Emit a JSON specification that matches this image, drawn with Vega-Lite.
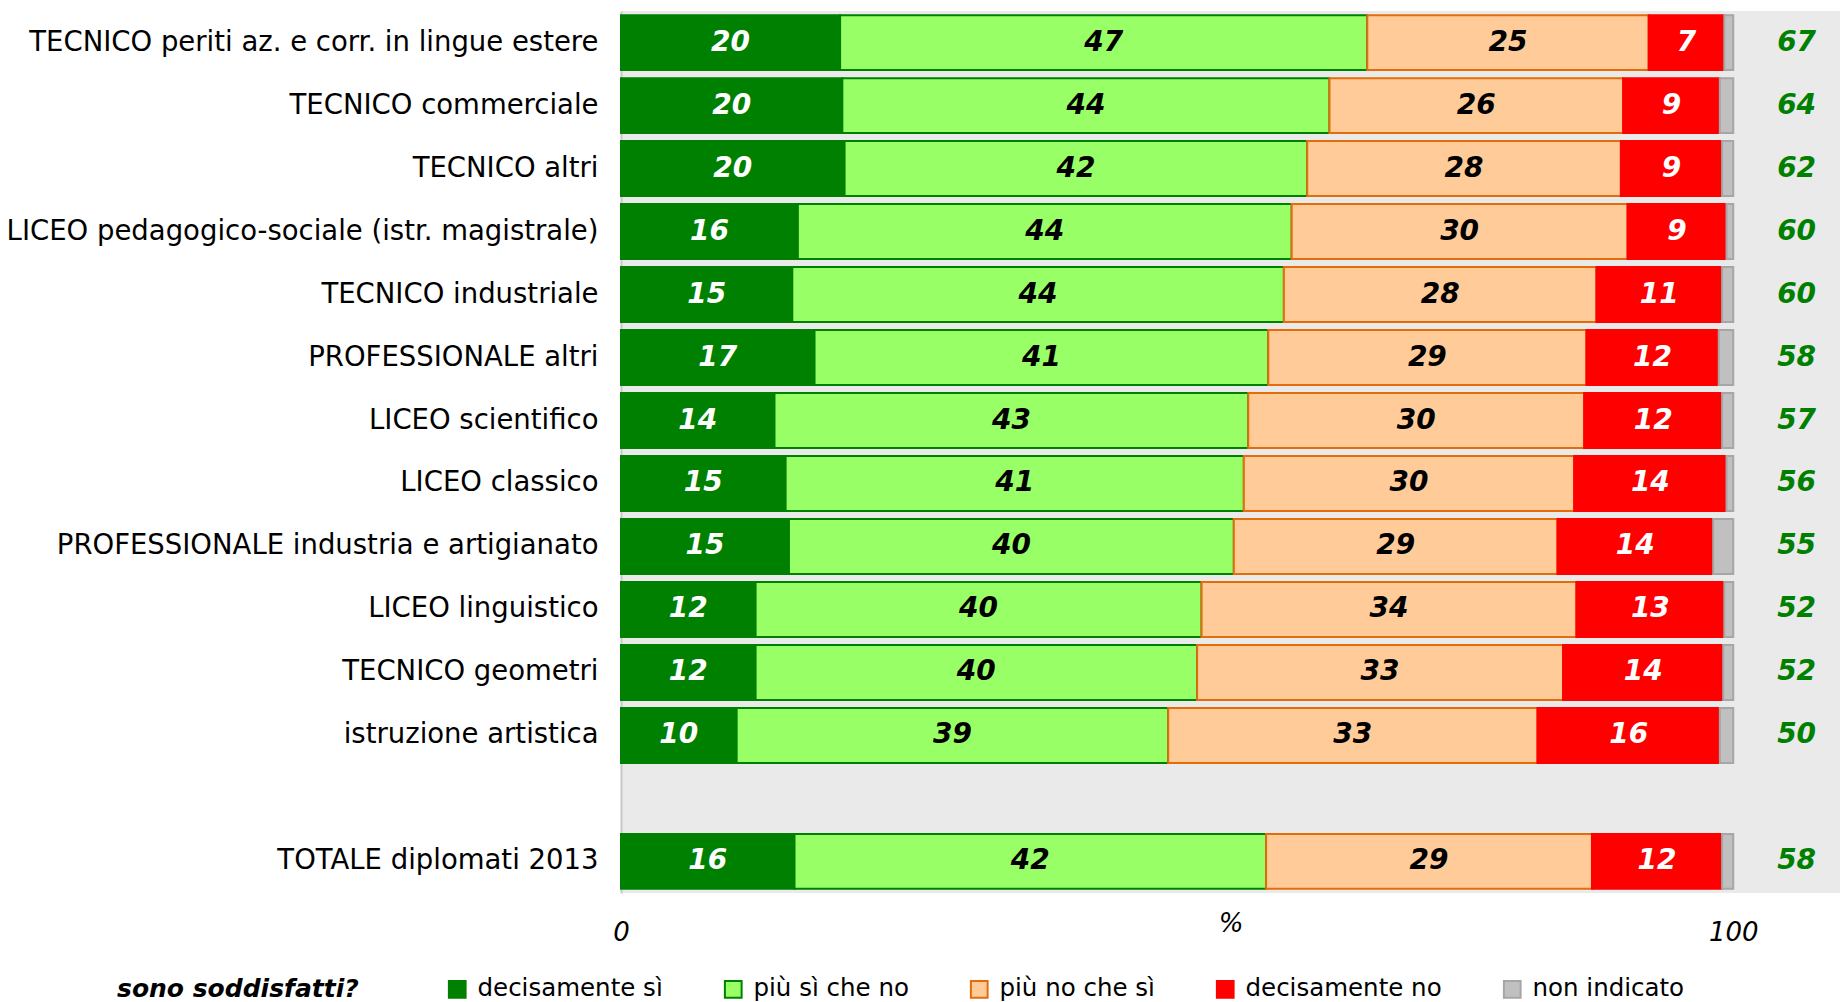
{
  "$schema": "https://vega.github.io/schema/vega-lite/v6.json",
  "width": 1219,
  "height": 882,
  "autosize": {"type": "none"},
  "padding": {"left": 621, "top": 11, "right": 0, "bottom": 109},
  "config": {
    "font": "DejaVu Sans",
    "view": {"stroke": null, "fill": "#EAEAEA"},
    "legend": {
      "orient": "none",
      "legendX": -504,
      "legendY": 966,
      "direction": "horizontal",
      "titleOrient": "left",
      "titleAngle": 0,
      "titleFontSize": 25,
      "titleFontStyle": "italic",
      "titleFontWeight": "bold",
      "titleColor": "#000000",
      "titlePadding": 86,
      "titleLimit": 0,
      "labelFontSize": 24.5,
      "labelColor": "#000000",
      "labelLimit": 0,
      "labelOffset": 8,
      "columnPadding": 57,
      "symbolType": "square",
      "symbolSize": 280,
      "symbolStrokeWidth": 2,
      "symbolOpacity": 1
    }
  },
  "datasets": {
    "segmenti": [
      {"categoria": "TECNICO periti az. e corr. in lingue estere", "risposta": "decisamente sì", "ordine": 1, "valore": 19.7},
      {"categoria": "TECNICO periti az. e corr. in lingue estere", "risposta": "più sì che no", "ordine": 2, "valore": 47.4},
      {"categoria": "TECNICO periti az. e corr. in lingue estere", "risposta": "più no che sì", "ordine": 3, "valore": 25.3},
      {"categoria": "TECNICO periti az. e corr. in lingue estere", "risposta": "decisamente no", "ordine": 4, "valore": 6.8},
      {"categoria": "TECNICO periti az. e corr. in lingue estere", "risposta": "non indicato", "ordine": 5, "valore": 0.8},
      {"categoria": "TECNICO commerciale", "risposta": "decisamente sì", "ordine": 1, "valore": 19.9},
      {"categoria": "TECNICO commerciale", "risposta": "più sì che no", "ordine": 2, "valore": 43.8},
      {"categoria": "TECNICO commerciale", "risposta": "più no che sì", "ordine": 3, "valore": 26.4},
      {"categoria": "TECNICO commerciale", "risposta": "decisamente no", "ordine": 4, "valore": 8.7},
      {"categoria": "TECNICO commerciale", "risposta": "non indicato", "ordine": 5, "valore": 1.2},
      {"categoria": "TECNICO altri", "risposta": "decisamente sì", "ordine": 1, "valore": 20.1},
      {"categoria": "TECNICO altri", "risposta": "più sì che no", "ordine": 2, "valore": 41.6},
      {"categoria": "TECNICO altri", "risposta": "più no che sì", "ordine": 3, "valore": 28.2},
      {"categoria": "TECNICO altri", "risposta": "decisamente no", "ordine": 4, "valore": 9.1},
      {"categoria": "TECNICO altri", "risposta": "non indicato", "ordine": 5, "valore": 1.0},
      {"categoria": "LICEO pedagogico-sociale (istr. magistrale)", "risposta": "decisamente sì", "ordine": 1, "valore": 15.9},
      {"categoria": "LICEO pedagogico-sociale (istr. magistrale)", "risposta": "più sì che no", "ordine": 2, "valore": 44.4},
      {"categoria": "LICEO pedagogico-sociale (istr. magistrale)", "risposta": "più no che sì", "ordine": 3, "valore": 30.2},
      {"categoria": "LICEO pedagogico-sociale (istr. magistrale)", "risposta": "decisamente no", "ordine": 4, "valore": 8.9},
      {"categoria": "LICEO pedagogico-sociale (istr. magistrale)", "risposta": "non indicato", "ordine": 5, "valore": 0.6},
      {"categoria": "TECNICO industriale", "risposta": "decisamente sì", "ordine": 1, "valore": 15.4},
      {"categoria": "TECNICO industriale", "risposta": "più sì che no", "ordine": 2, "valore": 44.2},
      {"categoria": "TECNICO industriale", "risposta": "più no che sì", "ordine": 3, "valore": 28.1},
      {"categoria": "TECNICO industriale", "risposta": "decisamente no", "ordine": 4, "valore": 11.3},
      {"categoria": "TECNICO industriale", "risposta": "non indicato", "ordine": 5, "valore": 1.0},
      {"categoria": "PROFESSIONALE altri", "risposta": "decisamente sì", "ordine": 1, "valore": 17.4},
      {"categoria": "PROFESSIONALE altri", "risposta": "più sì che no", "ordine": 2, "valore": 40.8},
      {"categoria": "PROFESSIONALE altri", "risposta": "più no che sì", "ordine": 3, "valore": 28.6},
      {"categoria": "PROFESSIONALE altri", "risposta": "decisamente no", "ordine": 4, "valore": 11.9},
      {"categoria": "PROFESSIONALE altri", "risposta": "non indicato", "ordine": 5, "valore": 1.3},
      {"categoria": "LICEO scientifico", "risposta": "decisamente sì", "ordine": 1, "valore": 13.8},
      {"categoria": "LICEO scientifico", "risposta": "più sì che no", "ordine": 2, "valore": 42.6},
      {"categoria": "LICEO scientifico", "risposta": "più no che sì", "ordine": 3, "valore": 30.2},
      {"categoria": "LICEO scientifico", "risposta": "decisamente no", "ordine": 4, "valore": 12.4},
      {"categoria": "LICEO scientifico", "risposta": "non indicato", "ordine": 5, "valore": 1.0},
      {"categoria": "LICEO classico", "risposta": "decisamente sì", "ordine": 1, "valore": 14.8},
      {"categoria": "LICEO classico", "risposta": "più sì che no", "ordine": 2, "valore": 41.2},
      {"categoria": "LICEO classico", "risposta": "più no che sì", "ordine": 3, "valore": 29.7},
      {"categoria": "LICEO classico", "risposta": "decisamente no", "ordine": 4, "valore": 13.7},
      {"categoria": "LICEO classico", "risposta": "non indicato", "ordine": 5, "valore": 0.6},
      {"categoria": "PROFESSIONALE industria e artigianato", "risposta": "decisamente sì", "ordine": 1, "valore": 15.1},
      {"categoria": "PROFESSIONALE industria e artigianato", "risposta": "più sì che no", "ordine": 2, "valore": 40.0},
      {"categoria": "PROFESSIONALE industria e artigianato", "risposta": "più no che sì", "ordine": 3, "valore": 29.1},
      {"categoria": "PROFESSIONALE industria e artigianato", "risposta": "decisamente no", "ordine": 4, "valore": 14.0},
      {"categoria": "PROFESSIONALE industria e artigianato", "risposta": "non indicato", "ordine": 5, "valore": 1.8},
      {"categoria": "LICEO linguistico", "risposta": "decisamente sì", "ordine": 1, "valore": 12.1},
      {"categoria": "LICEO linguistico", "risposta": "più sì che no", "ordine": 2, "valore": 40.1},
      {"categoria": "LICEO linguistico", "risposta": "più no che sì", "ordine": 3, "valore": 33.7},
      {"categoria": "LICEO linguistico", "risposta": "decisamente no", "ordine": 4, "valore": 13.3},
      {"categoria": "LICEO linguistico", "risposta": "non indicato", "ordine": 5, "valore": 0.8},
      {"categoria": "TECNICO geometri", "risposta": "decisamente sì", "ordine": 1, "valore": 12.1},
      {"categoria": "TECNICO geometri", "risposta": "più sì che no", "ordine": 2, "valore": 39.7},
      {"categoria": "TECNICO geometri", "risposta": "più no che sì", "ordine": 3, "valore": 32.9},
      {"categoria": "TECNICO geometri", "risposta": "decisamente no", "ordine": 4, "valore": 14.4},
      {"categoria": "TECNICO geometri", "risposta": "non indicato", "ordine": 5, "valore": 0.9},
      {"categoria": "istruzione artistica", "risposta": "decisamente sì", "ordine": 1, "valore": 10.4},
      {"categoria": "istruzione artistica", "risposta": "più sì che no", "ordine": 2, "valore": 38.8},
      {"categoria": "istruzione artistica", "risposta": "più no che sì", "ordine": 3, "valore": 33.2},
      {"categoria": "istruzione artistica", "risposta": "decisamente no", "ordine": 4, "valore": 16.4},
      {"categoria": "istruzione artistica", "risposta": "non indicato", "ordine": 5, "valore": 1.2},
      {"categoria": "TOTALE diplomati 2013", "risposta": "decisamente sì", "ordine": 1, "valore": 15.6},
      {"categoria": "TOTALE diplomati 2013", "risposta": "più sì che no", "ordine": 2, "valore": 42.4},
      {"categoria": "TOTALE diplomati 2013", "risposta": "più no che sì", "ordine": 3, "valore": 29.3},
      {"categoria": "TOTALE diplomati 2013", "risposta": "decisamente no", "ordine": 4, "valore": 11.7},
      {"categoria": "TOTALE diplomati 2013", "risposta": "non indicato", "ordine": 5, "valore": 1.0}
    ],
    "totali": [
      {"categoria": "TECNICO periti az. e corr. in lingue estere", "soddisfatti": 67},
      {"categoria": "TECNICO commerciale", "soddisfatti": 64},
      {"categoria": "TECNICO altri", "soddisfatti": 62},
      {"categoria": "LICEO pedagogico-sociale (istr. magistrale)", "soddisfatti": 60},
      {"categoria": "TECNICO industriale", "soddisfatti": 60},
      {"categoria": "PROFESSIONALE altri", "soddisfatti": 58},
      {"categoria": "LICEO scientifico", "soddisfatti": 57},
      {"categoria": "LICEO classico", "soddisfatti": 56},
      {"categoria": "PROFESSIONALE industria e artigianato", "soddisfatti": 55},
      {"categoria": "LICEO linguistico", "soddisfatti": 52},
      {"categoria": "TECNICO geometri", "soddisfatti": 52},
      {"categoria": "istruzione artistica", "soddisfatti": 50},
      {"categoria": "TOTALE diplomati 2013", "soddisfatti": 58}
    ]
  },
  "encoding": {
    "y": {
      "field": "categoria",
      "type": "nominal",
      "scale": {
        "domain": [
          "TECNICO periti az. e corr. in lingue estere",
          "TECNICO commerciale",
          "TECNICO altri",
          "LICEO pedagogico-sociale (istr. magistrale)",
          "TECNICO industriale",
          "PROFESSIONALE altri",
          "LICEO scientifico",
          "LICEO classico",
          "PROFESSIONALE industria e artigianato",
          "LICEO linguistico",
          "TECNICO geometri",
          "istruzione artistica",
          "",
          "TOTALE diplomati 2013"
        ],
        "paddingInner": 0.128,
        "paddingOuter": 0.066
      },
      "axis": {
        "title": null,
        "ticks": false,
        "grid": false,
        "domain": true,
        "domainColor": "#C8C8C8",
        "domainWidth": 2,
        "labelFontSize": 27.5,
        "labelColor": "#000000",
        "labelPadding": 23,
        "labelLimit": 0
      }
    }
  },
  "layer": [
    {
      "data": {"name": "segmenti"},
      "transform": [
        {"stack": "valore", "groupby": ["categoria"], "sort": [{"field": "ordine", "order": "ascending"}], "as": ["x0", "x1"]}
      ],
      "mark": {"type": "bar", "strokeWidth": 2},
      "encoding": {
        "x": {
          "field": "x0",
          "type": "quantitative",
          "scale": {"domain": [0, 109.6], "nice": false, "zero": true},
          "axis": {
            "values": [0, 100],
            "title": "%",
            "titleFontStyle": "italic",
            "titleFontWeight": "normal",
            "titleFontSize": 26,
            "titleColor": "#000000",
            "titleY": 30,
            "titleBaseline": "middle",
            "labelFontStyle": "italic",
            "labelFontSize": 26,
            "labelColor": "#000000",
            "labelPadding": 26,
            "labelFlush": false,
            "ticks": false,
            "grid": false,
            "domain": false
          }
        },
        "x2": {"field": "x1"},
        "fill": {
          "field": "risposta",
          "type": "nominal",
          "title": "sono soddisfatti?",
          "scale": {
            "domain": ["decisamente sì", "più sì che no", "più no che sì", "decisamente no", "non indicato"],
            "range": ["#008000", "#99FF66", "#FFCC99", "#FF0000", "#C0C0C0"]
          }
        },
        "stroke": {
          "field": "risposta",
          "type": "nominal",
          "title": "sono soddisfatti?",
          "scale": {
            "domain": ["decisamente sì", "più sì che no", "più no che sì", "decisamente no", "non indicato"],
            "range": ["#008000", "#008000", "#E46C0A", "#FF0000", "#A6A6A6"]
          }
        }
      }
    },
    {
      "data": {"name": "segmenti"},
      "transform": [
        {"stack": "valore", "groupby": ["categoria"], "sort": [{"field": "ordine", "order": "ascending"}], "as": ["x0", "x1"]},
        {"filter": "datum.risposta !== 'non indicato'"},
        {"calculate": "(datum.x0 + datum.x1) / 2", "as": "centro"}
      ],
      "mark": {"type": "text", "fontSize": 28, "fontWeight": "bold", "fontStyle": "italic", "align": "center", "baseline": "middle"},
      "encoding": {
        "x": {"field": "centro", "type": "quantitative"},
        "text": {"field": "valore", "type": "quantitative", "format": ".0f"},
        "color": {
          "condition": {"test": "datum.risposta === 'decisamente sì' || datum.risposta === 'decisamente no'", "value": "#FFFFFF"},
          "value": "#000000"
        }
      }
    },
    {
      "data": {"name": "totali"},
      "mark": {"type": "text", "fontSize": 28, "fontWeight": "bold", "fontStyle": "italic", "align": "center", "baseline": "middle", "color": "#008000"},
      "encoding": {
        "x": {"datum": 105.7, "type": "quantitative"},
        "text": {"field": "soddisfatti", "type": "quantitative"}
      }
    }
  ]
}
